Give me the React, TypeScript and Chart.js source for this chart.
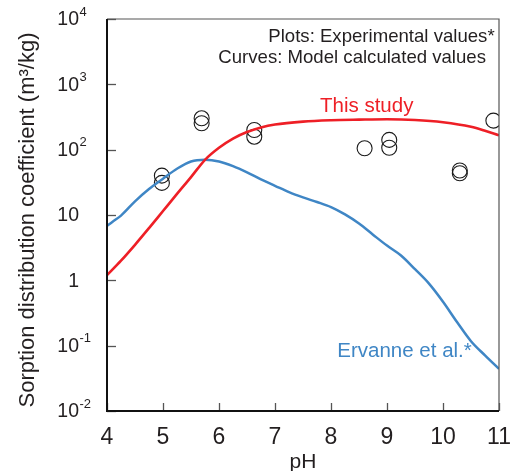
import React, { useEffect, useRef } from "react";
import { Chart, registerables } from "chart.js";

Chart.register(...registerables);

// ---- data ----
const thisStudyPH = [4, 4.25, 4.5, 4.75, 5, 5.25, 5.5, 5.75, 6, 6.25, 6.5, 6.75, 7, 7.5, 8, 8.5, 9, 9.5, 10, 10.5, 10.75, 11];
const thisStudyKd = [1.2, 2.0, 3.5, 6.3, 11.5, 21, 38, 70, 107, 148, 186, 219, 243, 269, 282, 288, 292, 285, 263, 224, 195, 166];

const ervannePH = [4, 4.1, 4.25, 4.5, 4.75, 5, 5.25, 5.5, 5.75, 6, 6.25, 6.5, 6.75, 7, 7.25, 7.5, 7.75, 8, 8.25, 8.5, 8.75, 9, 9.25, 9.5, 9.75, 10, 10.25, 10.5, 10.75, 11];
const ervanneKd = [6.8, 7.9, 9.8, 16.2, 25, 36, 51, 66, 70, 66, 56, 45, 35, 28, 22.4, 18.6, 15.8, 13.2, 10.2, 7.4, 5.0, 3.4, 2.4, 1.48, 0.89, 0.47, 0.23, 0.117, 0.071, 0.044];

const expPH = [4.98, 4.98, 5.69, 5.69, 6.63, 6.63, 8.6, 9.04, 9.04, 10.3, 10.3, 10.9];
const expKd = [40, 31, 302, 254, 200, 158, 105, 141, 107, 48, 43.6, 278];

const xTickValues = [4, 5, 6, 7, 8, 9, 10, 11];
const xTickLabels = ["4", "5", "6", "7", "8", "9", "10", "11"];
const yTickValues = [0.01, 0.1, 1, 10, 100, 1000, 10000];
const yTickBase = ["10", "10", "1", "10", "10", "10", "10"];
const yTickExp = ["-2", "-1", "", "", "2", "3", "4"];

const xTitle = "pH";
const yTitle = "Sorption distribution coefficient (m\u00B3/kg)";
const noteLine1 = "Plots: Experimental values*";
const noteLine2 = "Curves: Model calculated values";
const thisStudyLabel = "This study";
const ervanneLabel = "Ervanne et al.*";

const RED = "#ee1f26";
const BLUE = "#3f86c5";
const TEXT = "#231f20";
const FONT = '"Liberation Sans", Arial, Helvetica, sans-serif';

const toPoints = (xs: number[], ys: number[]) => xs.map((x, i) => ({ x, y: ys[i] }));

const decorPlugin = {
  id: "decor",
  afterDraw(chart: any) {
    const { ctx, chartArea, scales } = chart;
    const { left, right, top, bottom } = chartArea;
    const xs = scales.x;
    const ys = scales.y;
    ctx.save();

    // frame: top/right thin gray
    ctx.strokeStyle = "#555";
    ctx.lineWidth = 1.2;
    ctx.beginPath();
    ctx.moveTo(left, top);
    ctx.lineTo(right, top);
    ctx.lineTo(right, bottom);
    ctx.stroke();

    // inward ticks
    ctx.strokeStyle = "#555";
    ctx.lineWidth = 1.3;
    yTickValues.forEach((v) => {
      const py = Math.round(ys.getPixelForValue(v)) + 0.5;
      ctx.beginPath();
      ctx.moveTo(left, py);
      ctx.lineTo(left + 9, py);
      ctx.stroke();
    });
    xTickValues.forEach((v) => {
      const px = Math.round(xs.getPixelForValue(v)) + 0.5;
      ctx.beginPath();
      ctx.moveTo(px, bottom);
      ctx.lineTo(px, bottom - 8);
      ctx.stroke();
    });

    // left/bottom axes black
    ctx.strokeStyle = "#111";
    ctx.lineWidth = 2;
    ctx.beginPath();
    ctx.moveTo(left, top);
    ctx.lineTo(left, bottom);
    ctx.lineTo(right, bottom);
    ctx.stroke();

    ctx.fillStyle = TEXT;
    // y tick labels
    yTickValues.forEach((v, i) => {
      const py = ys.getPixelForValue(v);
      const baseRight = left - 28;
      ctx.font = `19.5px ${FONT}`;
      ctx.textAlign = "right";
      ctx.textBaseline = "middle";
      ctx.fillText(yTickBase[i], baseRight, py + 1);
      if (yTickExp[i]) {
        ctx.font = `13px ${FONT}`;
        ctx.textAlign = "left";
        ctx.fillText(yTickExp[i], baseRight + 0.5, py - 7);
      }
    });

    // x tick labels
    ctx.font = `23px ${FONT}`;
    ctx.textAlign = "center";
    ctx.textBaseline = "alphabetic";
    xTickValues.forEach((v, i) => {
      ctx.fillText(xTickLabels[i], xs.getPixelForValue(v), bottom + 32.5);
    });

    // x title
    ctx.font = `21px ${FONT}`;
    ctx.fillText(xTitle, (left + right) / 2, bottom + 57);

    // y title
    ctx.save();
    ctx.translate(33.5, (top + bottom) / 2 + 5);
    ctx.rotate(-Math.PI / 2);
    ctx.font = `22px ${FONT}`;
    ctx.textAlign = "center";
    ctx.fillText(yTitle, 0, 0);
    ctx.restore();

    // notes
    ctx.font = `18.6px ${FONT}`;
    ctx.textAlign = "left";
    ctx.fillStyle = TEXT;
    ctx.fillText(noteLine1, left + 161.3, top + 22.7);
    ctx.fillText(noteLine2, left + 111.3, top + 44.3);

    ctx.font = `20.5px ${FONT}`;
    ctx.fillStyle = RED;
    ctx.fillText(thisStudyLabel, left + 213, top + 92.7);
    ctx.fillStyle = BLUE;
    ctx.fillText(ervanneLabel, left + 230.3, top + 337.7);

    ctx.restore();
  },
};

export default function App() {
  const ref = useRef<HTMLCanvasElement | null>(null);

  useEffect(() => {
    document.body.style.margin = "0";
    const canvas = ref.current;
    if (!canvas) return;
    const chart = new Chart(canvas, {
      type: "scatter",
      data: {
        datasets: [
          {
            label: thisStudyLabel,
            data: toPoints(thisStudyPH, thisStudyKd),
            showLine: true,
            borderColor: RED,
            borderWidth: 2.6,
            pointRadius: 0,
            cubicInterpolationMode: "monotone",
          },
          {
            label: ervanneLabel,
            data: toPoints(ervannePH, ervanneKd),
            showLine: true,
            borderColor: BLUE,
            borderWidth: 2.5,
            pointRadius: 0,
            cubicInterpolationMode: "monotone",
          },
          {
            label: "Experimental",
            data: toPoints(expPH, expKd),
            showLine: false,
            pointStyle: "circle",
            pointRadius: 7.5,
            pointBorderWidth: 1.1,
            pointBorderColor: "#1a1a1a",
            pointBackgroundColor: "rgba(0,0,0,0)",
          } as any,
        ],
      },
      options: {
        animation: false,
        responsive: false,
        devicePixelRatio: 1,
        layout: { padding: { left: 107, top: 19, right: 19, bottom: 60 } },
        plugins: { legend: { display: false }, tooltip: { enabled: false } },
        scales: {
          x: { type: "linear", min: 4, max: 11, display: false },
          y: { type: "logarithmic", min: 0.01, max: 10000, display: false },
        },
      },
      plugins: [decorPlugin],
    } as any);
    return () => chart.destroy();
  }, []);

  return <canvas ref={ref} width={518} height={471} style={{ display: "block" }} />;
}
